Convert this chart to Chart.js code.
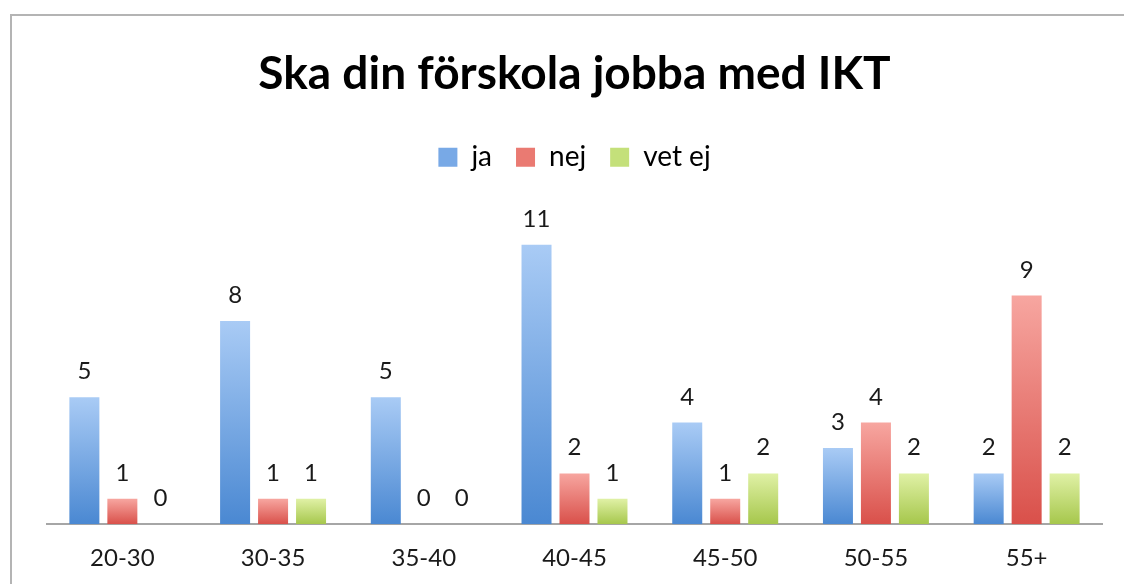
<!DOCTYPE html>
<html>
<head>
<meta charset="utf-8">
<script src="https://cdn.jsdelivr.net/npm/chart.js"></script>
<style>
  html, body { margin: 0; padding: 0; background: #fff; overflow: hidden; }
  #frame { position: absolute; left: 10px; top: 14px; width: 1200px; height: 700px; border: 2px solid #b4b4b4; }
  #iktChart { position: absolute; left: 0; top: 0; }
</style>
</head>
<body>
<div id="frame"></div>
<canvas id="iktChart" width="1124" height="584"></canvas>
<script>
// data
const ageGroups = ["20-30", "30-35", "35-40", "40-45", "45-50", "50-55", "55+"];
const jaValues = [5, 8, 5, 11, 4, 3, 2];
const nejValues = [1, 1, 0, 2, 1, 4, 9];
const vetEjValues = [0, 1, 0, 1, 2, 2, 2];
const seriesNames = ["ja", "nej", "vet ej"];

const FONT = "Lato, 'Open Sans', sans-serif";

// light top -> darker bottom, like the original
const shades = [
    ["#a9cbf5", "#4a88d2", "#78a9e6"],
    ["#f7a6a0", "#d9504a", "#ea7a72"],
    ["#e0f1a6", "#a6c74c", "#c4e07a"]
];

function barGradient(idx) {
    return function (context) {
        const chart = context.chart;
        const area = chart.chartArea;
        if (!area) return shades[idx][1];
        const yScale = chart.scales.y;
        const v = context.raw || 0;
        const top = yScale.getPixelForValue(v);
        const bottom = yScale.getPixelForValue(0);
        if (bottom - top < 1) return shades[idx][1];
        const g = chart.ctx.createLinearGradient(0, top, 0, bottom);
        g.addColorStop(0, shades[idx][0]);
        g.addColorStop(1, shades[idx][1]);
        return g;
    };
}

// small plugin to write the value above each bar
const valueLabels = {
    id: "valueLabels",
    afterDatasetsDraw(chart) {
        const ctx = chart.ctx;
        ctx.save();
        ctx.font = "24px " + FONT;
        ctx.fillStyle = "#1a1a1a";
        ctx.textAlign = "center";
        ctx.textBaseline = "alphabetic";
        chart.data.datasets.forEach((ds, i) => {
            chart.getDatasetMeta(i).data.forEach((bar, j) => {
                ctx.fillText(String(ds.data[j]), bar.x, bar.y - 18);
            });
        });
        ctx.restore();
    }
};

const ctx = document.getElementById("iktChart").getContext("2d");
new Chart(ctx, {
    type: "bar",
    data: {
        labels: ageGroups,
        datasets: [
            { label: seriesNames[0], data: jaValues, backgroundColor: barGradient(0) },
            { label: seriesNames[1], data: nejValues, backgroundColor: barGradient(1) },
            { label: seriesNames[2], data: vetEjValues, backgroundColor: barGradient(2) }
        ]
    },
    plugins: [valueLabels],
    options: {
        responsive: false,
        animation: false,
        devicePixelRatio: 1,
        layout: { padding: { left: 47, right: 22, top: 47, bottom: -9 } },
        datasets: {
            bar: { categoryPercentage: 0.756, barPercentage: 0.79, borderWidth: 0 }
        },
        plugins: {
            title: {
                display: true,
                text: "Ska din förskola jobba med IKT",
                color: "#000",
                font: { family: FONT, size: 46, weight: "bold" },
                padding: { top: 0, bottom: 17 }
            },
            legend: {
                display: true,
                labels: {
                    color: "#1a1a1a",
                    font: { family: FONT, size: 28 },
                    boxWidth: 19,
                    boxHeight: 19,
                    padding: 24,
                    generateLabels(chart) {
                        return seriesNames.map((name, i) => ({
                            text: name,
                            fillStyle: shades[i][2],
                            strokeStyle: shades[i][2],
                            lineWidth: 0,
                            datasetIndex: i,
                            hidden: false
                        }));
                    }
                }
            },
            tooltip: { enabled: false }
        },
        scales: {
            x: {
                grid: { display: false, drawTicks: false },
                border: { display: true, color: "#a6a6a6", width: 2 },
                ticks: { color: "#1a1a1a", font: { family: FONT, size: 24 }, padding: 20 }
            },
            y: {
                display: false,
                min: 0,
                max: 13.5
            }
        }
    }
});
</script>
</body>
</html>
